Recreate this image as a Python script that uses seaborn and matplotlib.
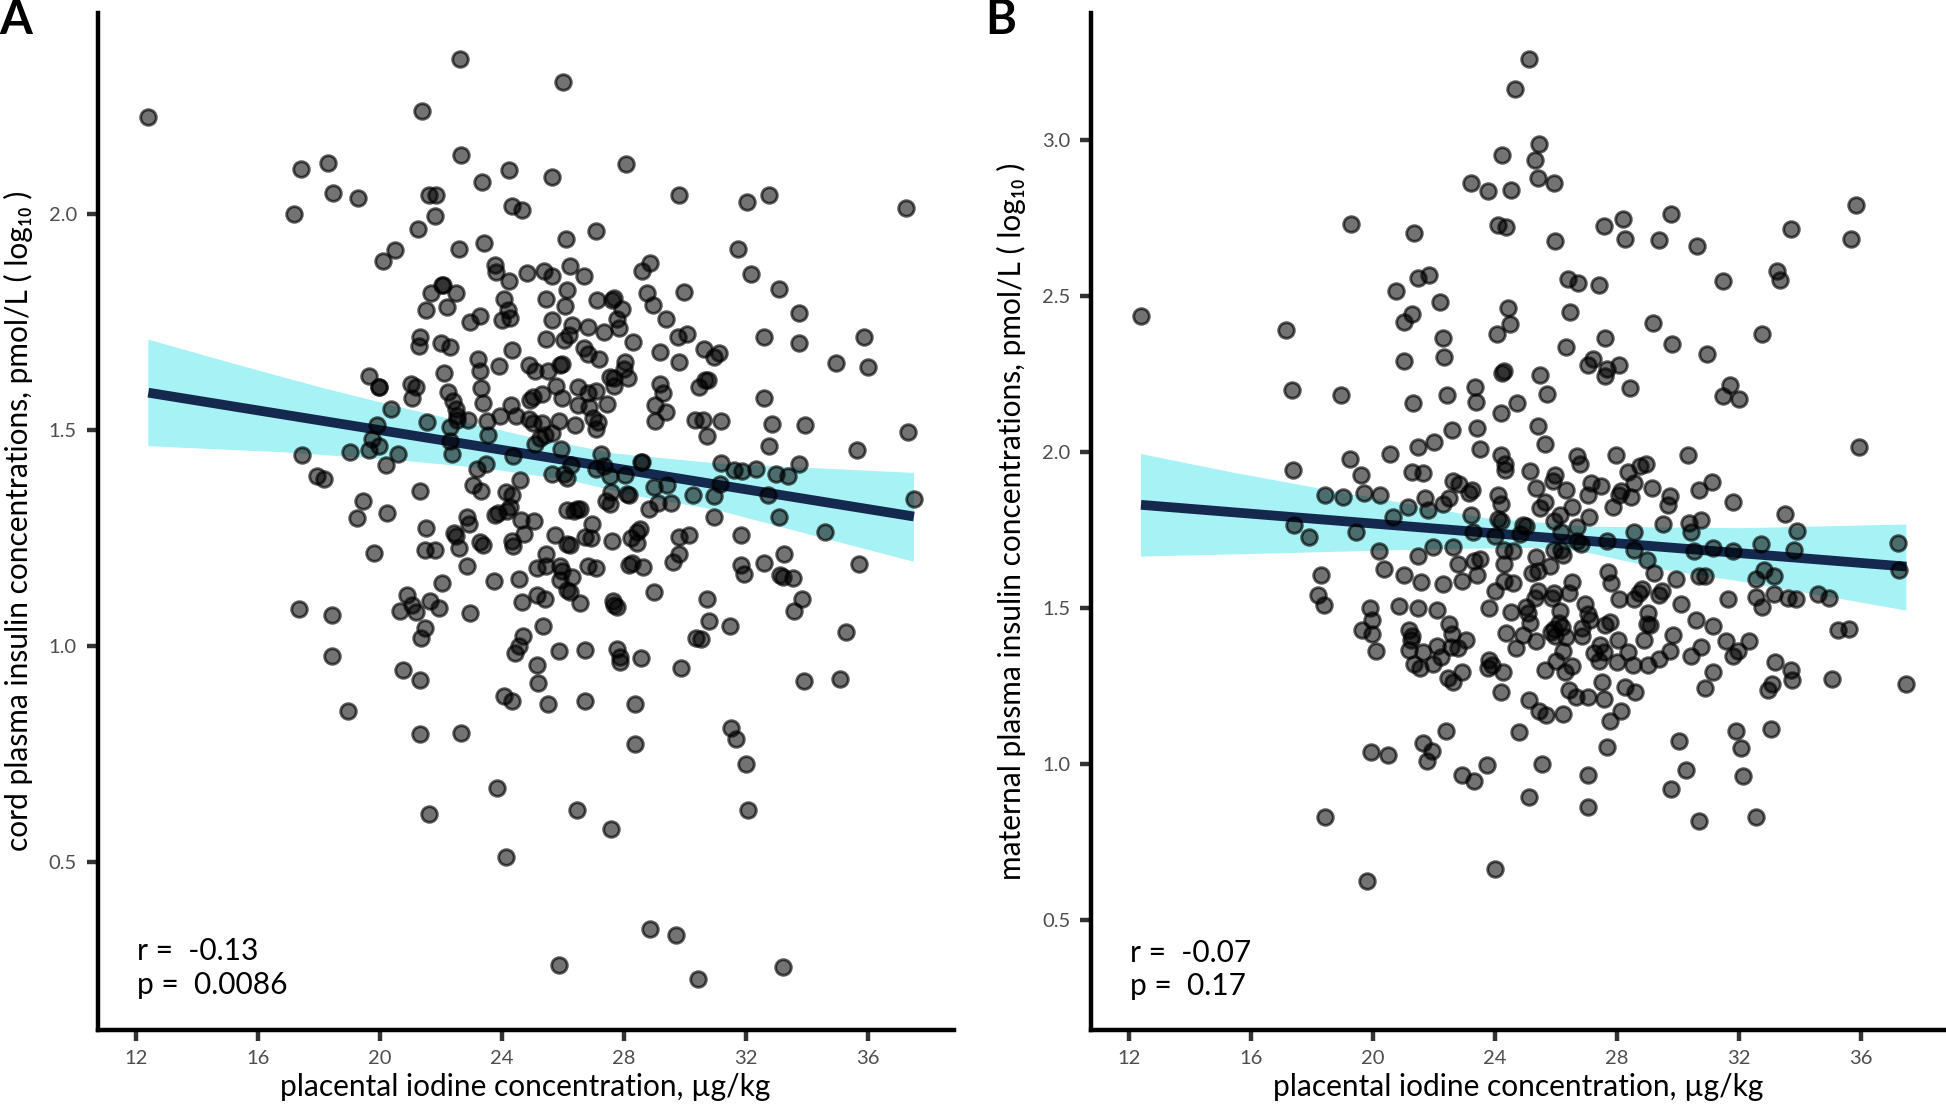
import matplotlib
matplotlib.use("Agg")
import seaborn as sns
import matplotlib.pyplot as plt
import pandas as pd

# (placental iodine, cord insulin)
cord_points = [
    (12.4, 2.226), (22.63, 2.36), (26.0, 2.307), (21.37, 2.24), (17.4, 2.106), (18.29, 2.12), (22.65, 2.137),
    (24.23, 2.104), (25.65, 2.087), (28.06, 2.116), (23.34, 2.076), (18.45, 2.049), (19.28, 2.037), (21.6, 2.044),
    (21.84, 2.044), (29.79, 2.046), (32.02, 2.03), (32.75, 2.045), (37.23, 2.016), (17.17, 2.002), (24.33, 2.02),
    (24.64, 2.01), (21.8, 1.996), (21.23, 1.966), (27.07, 1.961), (26.1, 1.944), (23.4, 1.934), (22.6, 1.921),
    (20.5, 1.918), (20.09, 1.893), (31.72, 1.92), (23.78, 1.883), (23.8, 1.866), (24.8, 1.865), (25.37, 1.868),
    (25.65, 1.857), (26.24, 1.88), (26.69, 1.858), (28.84, 1.887), (28.57, 1.869), (32.16, 1.861), (24.23, 1.846),
    (22.06, 1.837), (22.02, 1.837), (21.68, 1.817), (22.49, 1.819), (26.14, 1.824), (29.95, 1.821), (33.07, 1.828),
    (28.75, 1.819), (24.07, 1.803), (25.45, 1.804), (27.1, 1.802), (27.6, 1.802), (27.68, 1.806), (21.49, 1.778),
    (22.18, 1.785), (26.06, 1.787), (28.96, 1.791), (27.94, 1.78), (24.19, 1.778), (33.72, 1.771), (23.26, 1.765),
    (22.95, 1.751), (24.0, 1.755), (24.27, 1.76), (25.63, 1.755), (27.78, 1.758), (29.36, 1.758), (26.3, 1.744),
    (26.81, 1.739), (27.82, 1.737), (27.35, 1.728), (26.2, 1.721), (21.29, 1.717), (30.05, 1.724), (29.75, 1.717),
    (32.59, 1.717), (35.87, 1.717), (25.45, 1.712), (26.02, 1.71), (21.98, 1.703), (28.29, 1.704), (33.74, 1.703),
    (21.27, 1.694), (22.28, 1.692), (24.33, 1.687), (26.67, 1.69), (30.62, 1.689), (29.18, 1.682), (31.11, 1.679),
    (26.81, 1.676), (30.93, 1.669), (27.17, 1.666), (23.22, 1.665), (29.81, 1.659), (34.96, 1.655), (35.98, 1.646),
    (23.89, 1.649), (24.88, 1.65), (25.96, 1.653), (25.9, 1.65), (28.04, 1.658), (25.08, 1.637), (25.51, 1.637),
    (23.26, 1.637), (28.0, 1.643), (22.08, 1.633), (19.65, 1.626), (28.14, 1.621), (27.52, 1.623), (27.68, 1.62),
    (30.66, 1.617), (30.76, 1.616), (19.95, 1.6), (19.97, 1.6), (21.0, 1.606), (21.17, 1.601), (23.3, 1.597),
    (29.18, 1.606), (25.77, 1.602), (26.48, 1.601), (30.46, 1.6), (27.68, 1.602), (22.22, 1.589), (27.07, 1.591),
    (26.81, 1.586), (25.29, 1.584), (29.26, 1.587), (25.02, 1.577), (24.92, 1.57), (25.96, 1.574), (32.57, 1.575),
    (21.03, 1.574), (22.39, 1.568), (23.36, 1.562), (24.29, 1.558), (26.5, 1.558), (27.44, 1.56), (29.02, 1.559),
    (26.85, 1.554), (22.49, 1.55), (20.36, 1.549), (29.38, 1.542), (22.51, 1.533), (23.93, 1.533), (24.47, 1.533),
    (24.88, 1.525), (26.99, 1.529), (30.32, 1.523), (30.6, 1.523), (31.17, 1.521), (22.89, 1.523), (22.51, 1.523),
    (21.53, 1.519), (23.5, 1.521), (29.02, 1.521), (25.29, 1.517), (25.87, 1.521), (27.15, 1.518), (25.02, 1.517),
    (26.4, 1.512), (32.83, 1.514), (33.93, 1.513), (19.89, 1.512), (27.07, 1.502), (22.28, 1.507), (37.29, 1.496),
    (25.65, 1.493), (25.39, 1.488), (25.25, 1.481), (23.52, 1.49), (30.7, 1.486), (19.73, 1.479), (22.28, 1.474),
    (25.08, 1.467), (32.75, 1.464), (19.65, 1.453), (19.95, 1.463), (25.92, 1.456), (19.02, 1.45), (35.63, 1.455),
    (17.44, 1.443), (20.58, 1.445), (22.34, 1.446), (24.35, 1.44), (27.25, 1.445), (28.57, 1.426), (28.55, 1.426),
    (31.17, 1.423), (33.72, 1.421), (20.19, 1.42), (23.46, 1.421), (23.16, 1.411), (26.26, 1.42), (27.35, 1.417),
    (27.07, 1.411), (31.61, 1.407), (31.86, 1.405), (32.32, 1.411), (32.97, 1.398), (33.36, 1.394), (17.92, 1.394),
    (18.17, 1.388), (25.65, 1.398), (26.04, 1.399), (26.14, 1.39), (27.52, 1.393), (28.04, 1.397), (24.6, 1.384),
    (31.13, 1.376), (23.05, 1.373), (29.42, 1.373), (28.98, 1.368), (23.3, 1.36), (21.29, 1.36), (24.11, 1.357),
    (27.58, 1.357), (24.33, 1.351), (28.09, 1.352), (28.17, 1.351), (30.26, 1.351), (30.93, 1.347), (32.73, 1.351),
    (37.5, 1.34), (19.44, 1.335), (27.42, 1.335), (27.52, 1.33), (29.55, 1.332), (29.1, 1.332), (28.82, 1.318),
    (20.22, 1.309), (24.27, 1.322), (24.17, 1.312), (23.87, 1.308), (23.76, 1.304), (26.14, 1.314), (26.44, 1.317),
    (26.54, 1.317), (26.34, 1.312), (19.24, 1.296), (22.85, 1.298), (22.91, 1.283), (30.93, 1.3), (33.07, 1.298),
    (24.62, 1.291), (25.04, 1.29), (26.95, 1.283), (28.53, 1.271), (28.43, 1.264), (21.49, 1.274), (22.41, 1.262),
    (22.49, 1.254), (24.72, 1.259), (25.73, 1.258), (26.71, 1.252), (26.91, 1.25), (29.79, 1.252), (30.11, 1.258),
    (31.82, 1.258), (34.58, 1.263), (28.23, 1.25), (28.43, 1.238), (23.26, 1.24), (23.36, 1.234), (24.31, 1.244),
    (24.37, 1.231), (26.14, 1.237), (26.24, 1.234), (27.6, 1.243), (21.47, 1.223), (21.8, 1.223), (22.59, 1.226),
    (19.81, 1.215), (25.43, 1.214), (29.81, 1.214), (33.25, 1.212), (35.69, 1.189), (32.57, 1.193), (31.84, 1.187),
    (31.94, 1.166), (29.59, 1.195), (28.27, 1.193), (28.17, 1.187), (28.63, 1.183), (26.81, 1.185), (27.07, 1.18),
    (22.85, 1.185), (25.14, 1.181), (25.45, 1.185), (25.89, 1.185), (25.96, 1.174), (25.89, 1.154), (26.3, 1.16),
    (33.1, 1.164), (33.2, 1.16), (33.52, 1.158), (23.72, 1.15), (24.54, 1.155), (22.02, 1.145), (26.14, 1.13),
    (26.24, 1.125), (28.98, 1.126), (25.14, 1.119), (25.39, 1.108), (20.88, 1.119), (30.72, 1.11), (33.83, 1.11),
    (21.63, 1.105), (21.94, 1.089), (24.64, 1.102), (26.54, 1.1), (27.62, 1.104), (27.68, 1.096), (27.76, 1.09),
    (21.03, 1.096), (20.66, 1.081), (21.17, 1.079), (17.35, 1.085), (18.41, 1.071), (22.95, 1.077), (33.58, 1.081),
    (30.78, 1.058), (31.47, 1.046), (25.35, 1.047), (21.47, 1.042), (21.33, 1.018), (35.28, 1.032), (24.68, 1.022),
    (24.54, 1.0), (24.43, 0.983), (30.36, 1.019), (30.52, 1.017), (25.87, 0.989), (26.71, 0.99), (27.76, 0.994),
    (27.86, 0.975), (27.86, 0.963), (18.43, 0.977), (28.55, 0.973), (25.14, 0.957), (29.87, 0.95), (20.76, 0.944),
    (21.31, 0.922), (25.16, 0.914), (33.89, 0.919), (35.06, 0.923), (24.05, 0.884), (24.31, 0.873), (26.71, 0.872),
    (25.51, 0.865), (28.37, 0.865), (18.94, 0.85), (31.49, 0.81), (31.65, 0.784), (21.31, 0.797), (22.65, 0.799),
    (28.35, 0.772), (31.98, 0.726), (23.83, 0.671), (26.46, 0.621), (32.06, 0.62), (21.61, 0.61), (27.58, 0.576),
    (24.11, 0.51), (28.86, 0.344), (29.69, 0.33), (25.87, 0.261), (33.2, 0.255), (30.42, 0.229),
]

# (placental iodine, maternal insulin)
maternal_points = [
    (25.12, 3.261), (24.64, 3.164), (25.45, 2.989), (24.23, 2.952), (25.31, 2.938), (25.41, 2.881), (25.94, 2.864),
    (23.2, 2.864), (23.76, 2.838), (24.52, 2.84), (35.85, 2.792), (29.77, 2.765), (19.28, 2.732), (28.19, 2.748),
    (24.11, 2.729), (24.35, 2.721), (27.58, 2.725), (21.35, 2.703), (33.7, 2.717), (28.27, 2.685), (29.38, 2.681),
    (25.98, 2.677), (35.67, 2.683), (30.62, 2.662), (21.84, 2.569), (21.47, 2.56), (33.24, 2.58), (33.34, 2.554),
    (26.4, 2.557), (26.71, 2.542), (27.42, 2.537), (31.49, 2.551), (20.74, 2.517), (22.18, 2.481), (24.43, 2.462),
    (26.46, 2.451), (21.29, 2.443), (21.01, 2.418), (12.39, 2.438), (29.18, 2.414), (24.49, 2.412), (24.05, 2.378),
    (32.77, 2.38), (17.15, 2.391), (22.28, 2.367), (27.6, 2.368), (26.32, 2.339), (29.81, 2.346), (30.95, 2.314),
    (22.34, 2.305), (21.01, 2.292), (27.21, 2.3), (27.05, 2.28), (28.06, 2.281), (27.66, 2.268), (27.62, 2.246),
    (24.31, 2.26), (24.23, 2.256), (25.49, 2.248), (31.7, 2.215), (31.47, 2.18), (32.02, 2.172), (23.34, 2.21),
    (28.43, 2.207), (17.33, 2.199), (18.94, 2.185), (22.41, 2.184), (25.69, 2.188), (23.38, 2.161), (21.31, 2.157),
    (24.72, 2.157), (24.21, 2.126), (25.41, 2.086), (22.59, 2.071), (23.4, 2.077), (22.0, 2.034), (25.65, 2.026),
    (35.95, 2.017), (21.47, 2.017), (23.52, 2.01), (20.56, 1.994), (24.21, 1.992), (26.69, 1.99), (27.96, 1.993),
    (30.32, 1.993), (19.24, 1.979), (26.79, 1.962), (24.33, 1.962), (24.33, 1.945), (28.94, 1.962), (28.75, 1.958),
    (17.37, 1.945), (21.29, 1.937), (21.64, 1.934), (25.16, 1.94), (28.37, 1.937), (19.61, 1.928), (25.98, 1.928),
    (25.89, 1.907), (28.55, 1.902), (22.61, 1.908), (22.83, 1.899), (27.15, 1.902), (27.48, 1.893), (31.11, 1.904),
    (29.16, 1.887), (25.33, 1.886), (26.32, 1.881), (23.26, 1.88), (23.16, 1.871), (30.7, 1.879), (27.05, 1.865),
    (28.13, 1.877), (28.06, 1.862), (28.47, 1.856), (19.71, 1.871), (20.21, 1.862), (18.43, 1.864), (19.02, 1.856),
    (21.7, 1.854), (22.49, 1.854), (22.28, 1.834), (24.09, 1.863), (24.21, 1.834), (29.73, 1.859), (29.69, 1.831),
    (25.63, 1.842), (31.82, 1.84), (25.47, 1.821), (26.54, 1.825), (27.86, 1.825), (21.15, 1.825), (21.8, 1.817),
    (23.22, 1.799), (33.5, 1.801), (20.66, 1.794), (27.09, 1.794), (26.14, 1.799), (25.94, 1.781), (24.11, 1.785),
    (24.21, 1.779), (29.5, 1.771), (30.76, 1.783), (30.35, 1.773), (30.42, 1.745), (17.41, 1.767), (24.92, 1.768),
    (25.02, 1.764), (24.82, 1.739), (26.69, 1.762), (28.55, 1.745), (33.9, 1.747), (23.28, 1.744), (19.44, 1.745),
    (24.01, 1.733), (26.18, 1.745), (17.88, 1.728), (26.69, 1.716), (26.81, 1.705), (27.66, 1.716), (32.73, 1.708),
    (37.21, 1.709), (21.96, 1.697), (22.61, 1.696), (20.19, 1.684), (28.55, 1.688), (33.8, 1.688), (31.15, 1.693),
    (30.52, 1.684), (31.82, 1.684), (24.31, 1.688), (24.58, 1.684), (25.94, 1.688), (26.18, 1.688), (21.47, 1.667),
    (25.33, 1.664), (26.24, 1.67), (28.98, 1.656), (37.25, 1.624), (22.79, 1.641), (23.3, 1.652), (23.5, 1.658),
    (24.31, 1.641), (25.79, 1.635), (20.36, 1.626), (18.29, 1.607), (21.0, 1.607), (23.41, 1.607), (21.58, 1.584),
    (22.28, 1.578), (22.93, 1.589), (25.22, 1.615), (25.41, 1.621), (27.7, 1.618), (27.82, 1.58), (29.22, 1.612),
    (29.95, 1.593), (30.7, 1.604), (30.9, 1.604), (32.57, 1.595), (32.83, 1.624), (33.14, 1.603), (24.31, 1.589),
    (24.58, 1.581), (26.54, 1.584), (24.0, 1.555), (25.41, 1.555), (25.31, 1.532), (25.94, 1.549), (25.88, 1.532),
    (26.44, 1.549), (28.82, 1.561), (28.71, 1.549), (29.49, 1.555), (29.38, 1.544), (18.19, 1.544), (18.39, 1.511),
    (28.06, 1.529), (28.57, 1.529), (31.66, 1.53), (32.57, 1.536), (32.77, 1.503), (33.14, 1.547), (33.6, 1.532),
    (33.89, 1.529), (34.6, 1.547), (34.96, 1.532), (23.81, 1.5), (19.89, 1.501), (20.86, 1.507), (21.47, 1.501),
    (22.08, 1.494), (24.52, 1.49), (25.02, 1.503), (25.08, 1.486), (26.14, 1.492), (26.95, 1.515), (27.05, 1.481),
    (27.11, 1.463), (30.11, 1.513), (29.02, 1.486), (19.95, 1.463), (25.16, 1.452), (27.76, 1.458), (27.6, 1.446),
    (30.6, 1.463), (31.15, 1.445), (28.98, 1.45), (29.08, 1.446), (26.85, 1.437), (19.65, 1.432), (21.17, 1.432),
    (22.49, 1.45), (26.1, 1.452), (25.94, 1.435), (25.84, 1.423), (26.2, 1.44), (25.98, 1.412), (35.27, 1.432),
    (35.63, 1.435), (19.95, 1.418), (21.27, 1.412), (21.23, 1.398), (22.59, 1.418), (24.35, 1.42), (24.92, 1.415),
    (25.33, 1.395), (26.34, 1.408), (26.85, 1.412), (28.88, 1.4), (29.85, 1.415), (32.32, 1.397), (31.59, 1.395),
    (28.03, 1.4), (27.46, 1.383), (23.05, 1.398), (22.08, 1.381), (22.79, 1.374), (22.55, 1.377), (24.68, 1.372),
    (30.76, 1.375), (31.96, 1.364), (31.82, 1.349), (29.75, 1.364), (26.24, 1.364), (21.17, 1.368), (20.09, 1.364),
    (21.64, 1.36), (27.25, 1.357), (27.56, 1.36), (28.37, 1.36), (30.44, 1.349), (29.38, 1.337), (22.22, 1.343),
    (23.81, 1.335), (23.91, 1.32), (23.76, 1.309), (25.99, 1.332), (27.42, 1.332), (28.0, 1.328), (28.53, 1.32),
    (29.02, 1.318), (33.2, 1.329), (21.33, 1.322), (21.53, 1.309), (21.98, 1.322), (33.7, 1.303), (22.93, 1.297),
    (24.25, 1.297), (25.63, 1.303), (26.28, 1.297), (26.54, 1.314), (31.15, 1.295), (22.45, 1.278), (22.63, 1.263),
    (35.06, 1.275), (33.74, 1.271), (27.5, 1.263), (37.5, 1.259), (33.08, 1.259), (32.97, 1.237), (28.27, 1.248),
    (28.59, 1.231), (30.9, 1.246), (26.44, 1.24), (26.65, 1.217), (24.19, 1.232), (27.05, 1.215), (27.56, 1.209),
    (25.12, 1.208), (25.43, 1.171), (25.67, 1.158), (26.24, 1.16), (28.13, 1.171), (27.78, 1.139), (22.39, 1.108),
    (33.05, 1.114), (31.92, 1.108), (24.78, 1.105), (21.64, 1.068), (21.94, 1.042), (21.78, 1.011), (30.03, 1.074),
    (27.66, 1.056), (32.06, 1.051), (19.93, 1.04), (20.5, 1.03), (23.72, 0.998), (25.53, 1.001), (22.93, 0.966),
    (23.3, 0.948), (30.26, 0.982), (27.05, 0.965), (32.14, 0.963), (29.79, 0.922), (25.12, 0.896), (27.05, 0.864),
    (18.43, 0.833), (32.55, 0.831), (30.7, 0.818), (24.01, 0.664), (19.81, 0.625),
]

# fit line and confidence band edges
cord_fit_x = [12.4, 37.5]
cord_fit_y = [1.587, 1.30]
cord_upper_x = [12.4, 15.15, 18.16, 20.84, 24.85, 27.7, 31.04, 37.5]
cord_upper_y = [1.71, 1.655, 1.597, 1.55, 1.485, 1.446, 1.423, 1.401]
cord_lower_x = [12.4, 16.8, 20.5, 23.5, 26.2, 28.5, 31.04, 33.55, 37.5]
cord_lower_y = [1.463, 1.449, 1.431, 1.411, 1.384, 1.346, 1.315, 1.268, 1.195]

maternal_fit_x = [12.38, 37.5]
maternal_fit_y = [1.832, 1.634]
maternal_upper_x = [12.38, 15.36, 18.2, 20.38, 23.72, 27.07, 32.08, 37.5]
maternal_upper_y = [1.995, 1.936, 1.885, 1.848, 1.789, 1.762, 1.757, 1.769]
maternal_lower_x = [12.38, 17.03, 22.05, 25.4, 27.07, 29.6, 32.08, 34.6, 37.5]
maternal_lower_y = [1.666, 1.677, 1.69, 1.694, 1.678, 1.623, 1.586, 1.543, 1.493]

x_ticks = [12, 16, 20, 24, 28, 32, 36]
cord_y_ticks = [0.5, 1.0, 1.5, 2.0]
maternal_y_ticks = [0.5, 1.0, 1.5, 2.0, 2.5, 3.0]

xlabel = "placental iodine concentration, µg/kg"
cord_ylabel = "cord plasma insulin concentrations, pmol/L ( log₁₀ )"
maternal_ylabel = "maternal plasma insulin concentrations, pmol/L ( log₁₀ )"

W, H = 1946, 1105
BAND = "#a6f2f5"
LINE = "#15294f"


def draw_panel(ax, points, fit_x, fit_y, up_x, up_y, lo_x, lo_y, ylim, yticks, ylabel, notes, note_y, letter, letter_x):
    df = pd.DataFrame(points, columns=["iodine", "insulin"])
    fit = pd.DataFrame({"iodine": fit_x, "insulin": fit_y})

    # band polygon: upper edge forward, lower edge back
    ax.fill(up_x + lo_x[::-1], up_y + lo_y[::-1], color=BAND, lw=0, zorder=1)
    sns.lineplot(data=fit, x="iodine", y="insulin", ax=ax, color=LINE, lw=7, zorder=2, solid_capstyle="butt")
    sns.scatterplot(data=df, x="iodine", y="insulin", ax=ax, s=125, zorder=3, color="k")
    dots = ax.collections[-1]
    dots.set_facecolor((0, 0, 0, 0.55))
    dots.set_edgecolor((0, 0, 0, 0.65))
    dots.set_linewidth(2.1)

    ax.set_xlim(10.74, 38.8)
    ax.set_ylim(*ylim)
    ax.set_xticks(x_ticks)
    ax.set_yticks(yticks)
    ax.tick_params(length=8, width=3.2, color="#333333", labelcolor="#4d4d4d", labelsize=14.5, pad=7)
    sns.despine(ax=ax)
    for side in ["left", "bottom"]:
        ax.spines[side].set_linewidth(3.2)
        ax.spines[side].set_color("black")

    ax.set_xlabel(xlabel, fontsize=21.5, labelpad=4)
    ax.set_ylabel(ylabel, fontsize=21.5)
    ax.yaxis.set_label_coords(-0.0756, 0.5)

    for txt, yy in zip(notes, note_y):
        ax.text(12.03, yy, txt, fontsize=21.5, va="baseline", ha="left")
    ax.figure.text(letter_x, 1 - 34 / H, letter, fontsize=34, fontweight="bold", va="baseline", ha="left")


sns.set_theme(style="ticks")
plt.rcParams["font.family"] = ["Lato", "DejaVu Sans"]
plt.rcParams["text.color"] = "black"
plt.rcParams["axes.labelcolor"] = "black"

fig = plt.figure(figsize=(W / 100, H / 100), dpi=100, facecolor="white")
ax_a = fig.add_axes([97.7 / W, 1 - 1029.6 / H, (953.6 - 97.7) / W, (1029.6 - 12.5) / H])
ax_b = fig.add_axes([1091 / W, 1 - 1029.6 / H, (1946 - 1091) / W, (1029.6 - 12.5) / H])

draw_panel(ax_a, cord_points, cord_fit_x, cord_fit_y, cord_upper_x, cord_upper_y, cord_lower_x, cord_lower_y,
           (0.111, 2.468), cord_y_ticks, cord_ylabel, ["r =  -0.13", "p =  0.0086"], [0.272, 0.193], "A", -1 / W)
draw_panel(ax_b, maternal_points, maternal_fit_x, maternal_fit_y, maternal_upper_x, maternal_upper_y,
           maternal_lower_x, maternal_lower_y, (0.15, 3.41), maternal_y_ticks, maternal_ylabel,
           ["r =  -0.07", "p =  0.17"], [0.367, 0.261], "B", 985 / W)

fig.savefig("out.png", dpi=100)
plt.close(fig)
